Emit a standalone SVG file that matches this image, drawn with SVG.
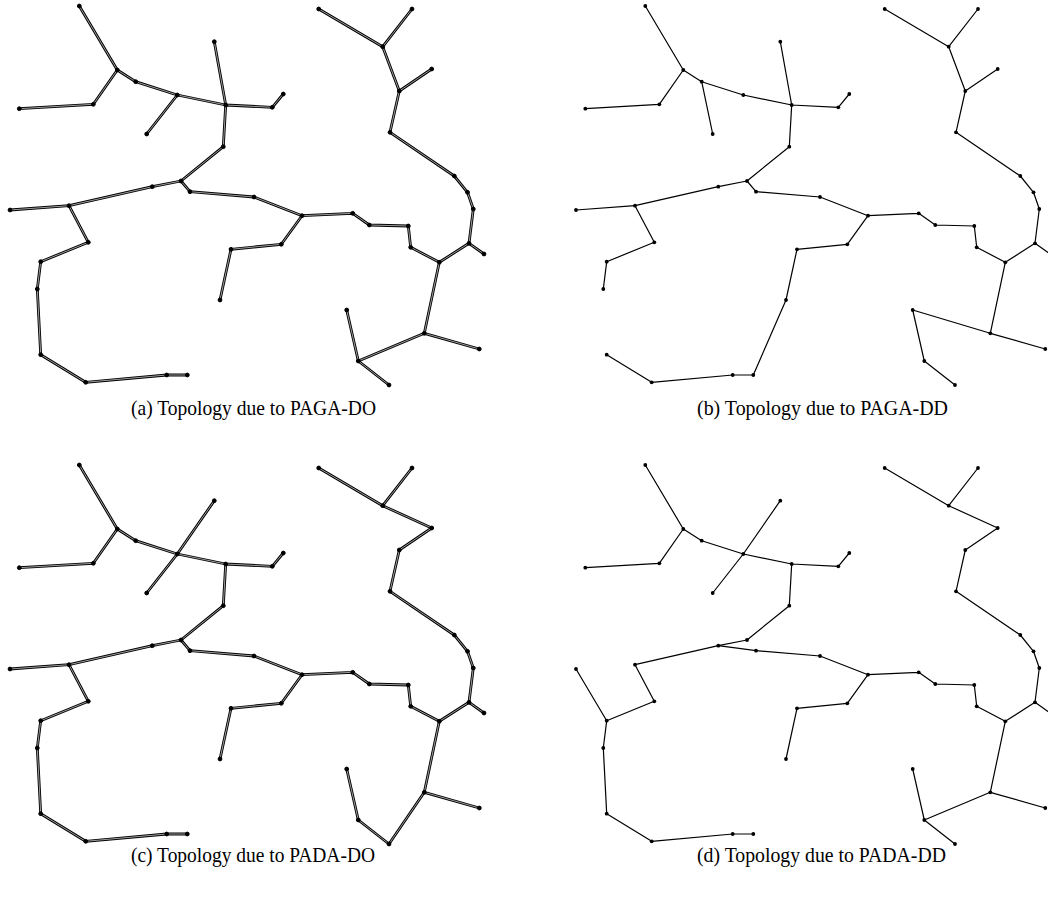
<svg xmlns="http://www.w3.org/2000/svg" xmlns:xlink="http://www.w3.org/1999/xlink" width="1048" height="898" viewBox="0 0 1048 898">
<style>
.bg{fill:#fff}
.outer{fill:none;stroke:#000;stroke-width:2.8;stroke-linecap:round}
.inner{fill:none;stroke:#b0b0b0;stroke-width:0.9;stroke-linecap:round}
.single{fill:none;stroke:#000;stroke-width:1.2;stroke-linecap:round}
.big{fill:#000;stroke:#000;stroke-width:1}
.small{fill:#000;stroke:none}
.cap{font-family:"Liberation Serif","DejaVu Serif",serif;font-size:21.5px;fill:#000}
</style>
<defs>
<path id="common" d="M79.3 6L117.3 70M117.3 70L93.3 104.3M93.3 104.3L19.3 108.7M117.3 70L135.7 81.7M135.7 81.7L177.3 95M177.3 95L225.7 105M225.7 105L272.3 107.3M272.3 107.3L283.3 94M225.7 105L223.3 146.7M223.3 146.7L181 181M181 181L152.3 186.7M190 191.7L254 197M254 197L302 215.7M302 215.7L281.3 244.3M281.3 244.3L231 249.3M231 249.3L220 300M302 215.7L352.7 213.3M352.7 213.3L369.3 225M369.3 225L408.3 226M408.3 226L410.7 247.3M410.7 247.3L439.3 262.3M439.3 262.3L469 243.3M469 243.3L484 254M469 243.3L473.3 209M473.3 209L467.5 192.3M467.5 192.3L454.3 176M454.3 176L390 132.3M390 132.3L399.3 91M399.3 91L431.7 69M382.7 46.7L318.7 9M382.7 46.7L412 9M439.3 262.3L424.3 333.3M424.3 333.3L479.3 349M358.3 361L389 385M40.7 354.7L85.7 382.3M85.7 382.3L166.7 375M166.7 375L187.3 375M69 205.7L88.3 242.3M88.3 242.3L40.7 261.7M40.7 261.7L37.3 289M152.3 186.7L69 205.7"/>
<path id="ea" d="M177.3 95L146.7 134M225.7 105L214.3 41.7M399.3 91L382.7 46.7M181 181L190 191.7M69 205.7L10 210M37.3 289L40.7 354.7M424.3 333.3L358.3 361M358.3 361L346.7 310"/>
<path id="eb" d="M135.7 81.7L146.7 134M225.7 105L214.3 41.7M399.3 91L382.7 46.7M181 181L190 191.7M69 205.7L10 210M187.3 375L220 300M424.3 333.3L346.7 310M346.7 310L358.3 361"/>
<path id="ec" d="M177.3 95L146.7 134M177.3 95L214.3 41.7M431.7 69L382.7 46.7M181 181L190 191.7M69 205.7L10 210M37.3 289L40.7 354.7M424.3 333.3L389 385M358.3 361L346.7 310"/>
<path id="ed" d="M177.3 95L146.7 134M177.3 95L214.3 41.7M431.7 69L382.7 46.7M152.3 186.7L190 191.7M40.7 261.7L10 210M37.3 289L40.7 354.7M424.3 333.3L358.3 361M358.3 361L346.7 310"/>
<g id="dots">
<circle r="1.9" cx="79.3" cy="6"/><circle r="1.9" cx="117.3" cy="70"/><circle r="1.9" cx="135.7" cy="81.7"/><circle r="1.9" cx="177.3" cy="95"/><circle r="1.9" cx="225.7" cy="105"/><circle r="1.9" cx="214.3" cy="41.7"/><circle r="1.9" cx="93.3" cy="104.3"/><circle r="1.9" cx="19.3" cy="108.7"/><circle r="1.9" cx="146.7" cy="134"/><circle r="1.9" cx="223.3" cy="146.7"/><circle r="1.9" cx="181" cy="181"/><circle r="1.9" cx="152.3" cy="186.7"/><circle r="1.9" cx="190" cy="191.7"/><circle r="1.9" cx="254" cy="197"/><circle r="1.9" cx="272.3" cy="107.3"/><circle r="1.9" cx="283.3" cy="94"/><circle r="1.9" cx="318.7" cy="9"/><circle r="1.9" cx="412" cy="9"/><circle r="1.9" cx="382.7" cy="46.7"/><circle r="1.9" cx="399.3" cy="91"/><circle r="1.9" cx="431.7" cy="69"/><circle r="1.9" cx="390" cy="132.3"/><circle r="1.9" cx="454.3" cy="176"/><circle r="1.9" cx="467.5" cy="192.3"/><circle r="1.9" cx="10" cy="210"/><circle r="1.9" cx="69" cy="205.7"/><circle r="1.9" cx="88.3" cy="242.3"/><circle r="1.9" cx="40.7" cy="261.7"/><circle r="1.9" cx="37.3" cy="289"/><circle r="1.9" cx="40.7" cy="354.7"/><circle r="1.9" cx="85.7" cy="382.3"/><circle r="1.9" cx="166.7" cy="375"/><circle r="1.9" cx="187.3" cy="375"/><circle r="1.9" cx="231" cy="249.3"/><circle r="1.9" cx="220" cy="300"/><circle r="1.9" cx="302" cy="215.7"/><circle r="1.9" cx="281.3" cy="244.3"/><circle r="1.9" cx="352.7" cy="213.3"/><circle r="1.9" cx="369.3" cy="225"/><circle r="1.9" cx="408.3" cy="226"/><circle r="1.9" cx="410.7" cy="247.3"/><circle r="1.9" cx="439.3" cy="262.3"/><circle r="1.9" cx="469" cy="243.3"/><circle r="1.9" cx="484" cy="254"/><circle r="1.9" cx="473.3" cy="209"/><circle r="1.9" cx="424.3" cy="333.3"/><circle r="1.9" cx="479.3" cy="349"/><circle r="1.9" cx="358.3" cy="361"/><circle r="1.9" cx="346.7" cy="310"/><circle r="1.9" cx="389" cy="385"/>
</g>
</defs>
<rect class="bg" x="0" y="0" width="1048" height="898"/>

<g id="connectors">
<g id="connectors-a">
<use xlink:href="#common" class="outer"/><use xlink:href="#ea" class="outer"/>
<use xlink:href="#common" class="inner"/><use xlink:href="#ea" class="inner"/>
</g>
<g id="connectors-b" transform="translate(566,0)">
<use xlink:href="#common" class="single"/><use xlink:href="#eb" class="single"/>
</g>
<g id="connectors-c" transform="translate(0,459)">
<use xlink:href="#common" class="outer"/><use xlink:href="#ec" class="outer"/>
<use xlink:href="#common" class="inner"/><use xlink:href="#ec" class="inner"/>
</g>
<g id="connectors-d" transform="translate(566,459)">
<use xlink:href="#common" class="single"/><use xlink:href="#ed" class="single"/>
</g>
</g>

<g id="nodes-a" class="big"><use xlink:href="#dots"/></g>
<g id="nodes-b" class="small" transform="translate(566,0)"><use xlink:href="#dots"/></g>
<g id="nodes-c" class="big" transform="translate(0,459)"><use xlink:href="#dots"/></g>
<g id="nodes-d" class="small" transform="translate(566,459)"><use xlink:href="#dots"/></g>

<g id="captions">
<text class="cap" x="131" y="415" textLength="245" lengthAdjust="spacingAndGlyphs">(a) Topology due to PAGA-DO</text>
<text class="cap" x="697" y="415" textLength="251" lengthAdjust="spacingAndGlyphs">(b) Topology due to PAGA-DD</text>
<text class="cap" x="131" y="862" textLength="244" lengthAdjust="spacingAndGlyphs">(c) Topology due to PADA-DO</text>
<text class="cap" x="697" y="862" textLength="249" lengthAdjust="spacingAndGlyphs">(d) Topology due to PADA-DD</text>
</g>
</svg>
